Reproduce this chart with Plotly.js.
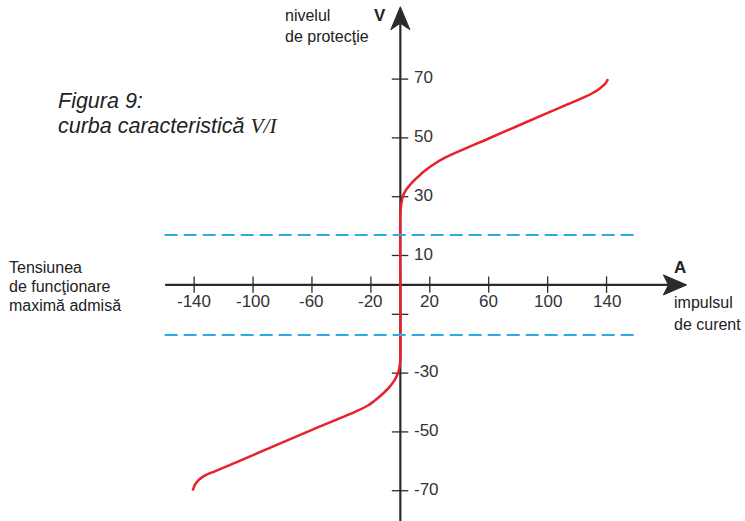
<!DOCTYPE html>
<html>
<head>
<meta charset="utf-8">
<script src="https://cdn.plot.ly/plotly-3.0.1.min.js"></script>
<style>html,body{margin:0;padding:0;background:#fff;}#chart{width:745px;height:521px;}</style>
</head>
<body>
<div id="chart"></div>
<script>
// ---- data ----
const curveX = [-141, -139.5, -137, -134, -130, -126, -100, -60, -30, -22, -16, -11, -7, -4, -2, -0.8, 0, 0, 0.8, 2, 4, 7, 11, 16, 22, 30, 60, 100, 126, 130, 134, 137, 139.5, 141];
const curveY = [-70, -68, -66.4, -65.2, -64.2, -63.4, -57.9, -49.3, -43, -41, -38.8, -36.6, -34.5, -32.5, -30.5, -28.5, -25.5, 24, 28, 30.5, 32.4, 34.3, 36.3, 38.6, 40.8, 43.2, 49.8, 58.5, 64.1, 65.1, 66.3, 67.5, 68.7, 70];
const limitLevels = [17, -17];
const limitSpan = [-160, 160];
const xTicks = [-140, -100, -60, -20, 20, 60, 100, 140];
const xTickLabels = ['-140', '-100', '-60', '-20', '20', '60', '100', '140'];
const yTicks = [70, 50, 30, 10, -10, -30, -50, -70];
const yTickLabels = ['70', '50', '30', '10', '', '-30', '-50', '-70'];

// ---- styling ----
const axisColor = '#2b2b2b';
const textColor = '#333333';
const W = 745, H = 521;
const px = (x) => x / W, py = (y) => 1 - y / H;

const traces = [
  {
    x: curveX, y: curveY, type: 'scatter', mode: 'lines',
    line: {color: '#e8212b', width: 2.5, shape: 'spline', smoothing: 0.6},
    hoverinfo: 'skip'
  }
];
limitLevels.forEach(v => {
  traces.push({
    x: limitSpan, y: [v, v], type: 'scatter', mode: 'lines',
    line: {color: '#29aee4', width: 2, dash: '13px,6px'}, hoverinfo: 'skip'
  });
});

const shapes = [
  // axes
  {type: 'line', xref: 'x', yref: 'y', x0: -159.7, x1: 183, y0: 0, y1: 0, line: {color: axisColor, width: 2.2}, layer: 'below'},
  {type: 'line', xref: 'x', yref: 'y', x0: 0, x1: 0, y0: -81, y1: 89, line: {color: axisColor, width: 2.2}, layer: 'below'},
  // arrowheads
  {type: 'path', xref: 'x', yref: 'y', path: 'M -6.5 86.8 L 0 94.6 L 6.5 86.8 L 0 89 Z', fillcolor: axisColor, line: {color: axisColor, width: 1}},
  {type: 'path', xref: 'x', yref: 'y', path: 'M 178.6 3.4 L 194.4 0 L 178.6 -3.4 L 182 0 Z', fillcolor: axisColor, line: {color: axisColor, width: 1}}
];
xTicks.forEach(v => shapes.push({type: 'line', xref: 'x', yref: 'y', x0: v, x1: v, y0: -2.7, y1: 2.9, line: {color: axisColor, width: 1.3}, layer: 'below'}));
yTicks.forEach(v => shapes.push({type: 'line', xref: 'x', yref: 'y', x0: -5.8, x1: 5.4, y0: v, y1: v, line: {color: axisColor, width: 1.3}, layer: 'below'}));

const tickFont = {family: 'Liberation Sans, Arial, sans-serif', size: 17, color: textColor};
const annotations = [];
xTicks.forEach((v, i) => annotations.push({x: v, y: 0, xref: 'x', yref: 'y', text: xTickLabels[i], showarrow: false, xanchor: 'center', yanchor: 'middle', yshift: -16.5, font: tickFont}));
yTicks.forEach((v, i) => { if (yTickLabels[i]) annotations.push({x: 0, y: v, xref: 'x', yref: 'y', text: yTickLabels[i], showarrow: false, xanchor: 'left', yanchor: 'middle', xshift: 12, yshift: 1.5, font: tickFont}); });

const lab = {family: 'Liberation Sans, Arial, sans-serif', size: 16, color: '#222'};
function txt(x, y, text, font, extra) {
  annotations.push(Object.assign({x: px(x), y: py(y), xref: 'paper', yref: 'paper', text: text, showarrow: false, xanchor: 'left', yanchor: 'middle', font: font, align: 'left'}, extra || {}));
}
txt(283, 15, 'nivelul', lab);
txt(283, 37, 'de protecţie', lab);
txt(372, 15, '<b>V</b>', {family: 'Liberation Sans, Arial, sans-serif', size: 17, color: '#222'});
txt(672, 267, '<b>A</b>', {family: 'Liberation Sans, Arial, sans-serif', size: 17, color: '#222'});
txt(672, 302, 'impulsul', lab);
txt(672, 324, 'de curent', lab);
const lab16 = {family: 'Liberation Sans, Arial, sans-serif', size: 16, color: '#222'};
txt(7, 267, 'Tensiunea', lab16);
txt(7, 286, 'de funcţionare', lab16);
txt(7, 305, 'maximă admisă', lab16);
const fig = {family: 'Liberation Sans, Arial, sans-serif', size: 21.5, color: '#222'};
txt(56, 101, '<i>Figura 9:</i>', fig);
txt(56, 126, '<i>curba caracteristică <span style="font-family:Liberation Serif, Times New Roman, serif">V/I</span></i>', fig);

const layout = {
  width: W, height: H,
  margin: {l: 0, r: 0, t: 0, b: 0},
  paper_bgcolor: '#ffffff', plot_bgcolor: '#ffffff',
  showlegend: false,
  xaxis: {range: [-271.8, 234.0], visible: false, fixedrange: true},
  yaxis: {range: [-80.3, 96.9], visible: false, fixedrange: true},
  shapes: shapes,
  annotations: annotations
};
Plotly.newPlot('chart', traces, layout, {displayModeBar: false, staticPlot: true});
</script>
</body>
</html>
